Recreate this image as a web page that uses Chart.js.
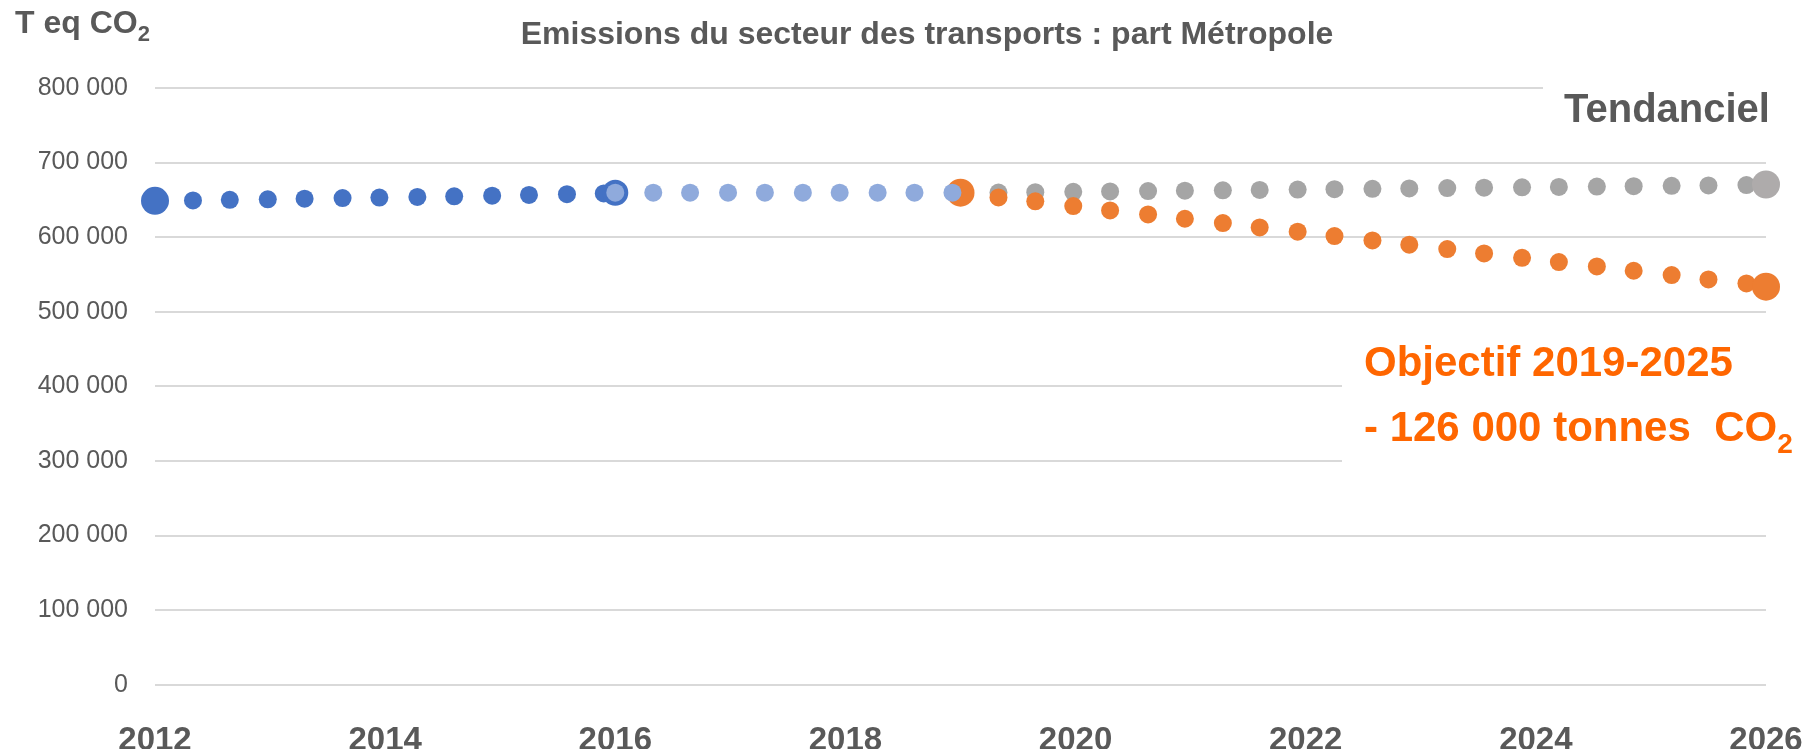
<!DOCTYPE html>
<html>
<head>
<meta charset="utf-8">
<script src="https://cdn.jsdelivr.net/npm/chart.js@4/dist/chart.umd.min.js"></script>
<style>
  html, body { margin: 0; padding: 0; background: #fff; }
  #chart { display: block; }
</style>
</head>
<body>
<canvas id="chart" width="1820" height="749"></canvas>
<script>
// ── données ─────────────────────────────────────────────
const X_TICKS = [2012, 2014, 2016, 2018, 2020, 2022, 2024, 2026];

// historique 2012-2016
const blueBigX = [2012, 2016];
const blueBigY = [648800, 659600];
const blueX = [2012.33, 2012.65, 2012.98, 2013.30, 2013.63, 2013.95, 2014.28, 2014.60, 2014.93, 2015.25, 2015.58, 2015.90];
const blueY = [649300, 650100, 650800, 651600, 652400, 653100, 653900, 654800, 655700, 656600, 657600, 658600];

// 2016-2019
const lightX = [2016, 2016.33, 2016.65, 2016.98, 2017.30, 2017.63, 2017.95, 2018.28, 2018.60, 2018.93];
const lightY = [659600, 659600, 659600, 659600, 659600, 659600, 659600, 659600, 659600, 659600];

// tendanciel 2019-2026
const trendX = [2019.33, 2019.65, 2019.98, 2020.30, 2020.63, 2020.95, 2021.28, 2021.60, 2021.93, 2022.25, 2022.58,
                2022.90, 2023.23, 2023.55, 2023.88, 2024.20, 2024.53, 2024.85, 2025.18, 2025.50, 2025.83];
const trendY = [659900, 660300, 660800, 661300, 661800, 662300, 662800, 663300, 663800, 664300, 664800,
                665300, 665800, 666300, 666800, 667300, 667800, 668300, 668800, 669300, 669900];
const trendBigX = [2026];
const trendBigY = [670600];

// objectif 2019-2026
const objY = [653300, 648000, 641700, 635900, 630500, 624700, 618900, 613100, 607300, 601500, 595700,
              589900, 584000, 578200, 572400, 566600, 560800, 555000, 549200, 543400, 538000];
const objBigX = [2019, 2026];
const objBigY = [659600, 533600];

// ── couleurs ────────────────────────────────────────────
const C_BLUE  = '#4472C4';
const C_LIGHT = '#8FAADC';
const C_ORANGE = '#ED7D31';
const C_GREY  = '#A5A5A5';
const C_GREY2 = '#AEABAB';
const C_TEXT  = '#595959';
const C_LABEL = '#FF6600';
const FONT = '"Liberation Sans", Arial, sans-serif';

function pts(xs, ys) {
  return xs.map((x, i) => ({ x: x, y: ys[i] }));
}

function serie(xs, ys, color, radius, order) {
  return {
    data: pts(xs, ys),
    backgroundColor: color,
    borderWidth: 0,
    pointRadius: radius,
    pointHoverRadius: radius,
    pointBorderWidth: 0,
    clip: false,
    order: order
  };
}

// texte avec indice (CO2)
function textSub(c, main, sub, x, y, size, subSize, drop) {
  c.font = 'bold ' + size + 'px ' + FONT;
  c.fillText(main, x, y);
  const w = c.measureText(main).width;
  c.font = 'bold ' + subSize + 'px ' + FONT;
  c.fillText(sub, x + w, y + drop);
}

// ── titres et étiquettes ────────────────────────────────
const labelsPlugin = {
  id: 'labels',
  afterDraw(chart) {
    const c = chart.ctx;
    c.save();
    // fonds blancs derrière les étiquettes (coupent le quadrillage)
    c.fillStyle = '#fff';
    c.fillRect(1543, 60, 277, 80);
    c.fillRect(1342, 330, 478, 150);

    c.textBaseline = 'alphabetic';
    c.textAlign = 'left';
    c.fillStyle = C_TEXT;

    textSub(c, 'T eq CO', '2', 15, 33, 32, 22, 8);

    c.font = 'bold 32px ' + FONT;
    c.textAlign = 'center';
    c.fillText('Emissions du secteur des transports : part Métropole', 927, 44);

    c.textAlign = 'left';
    c.font = 'bold 40px ' + FONT;
    c.fillText('Tendanciel', 1564, 122);

    c.fillStyle = C_LABEL;
    c.font = 'bold 42px ' + FONT;
    c.fillText('Objectif 2019-2025', 1364, 376);
    textSub(c, '- 126 000 tonnes  CO', '2', 1364, 441, 42, 28, 12);
    c.restore();
  }
};

new Chart(document.getElementById('chart'), {
  type: 'scatter',
  data: {
    datasets: [
      serie(lightX, lightY, C_LIGHT, 9, 0),
      serie(blueBigX, blueBigY, C_BLUE, [14, 13], 1),
      serie(blueX, blueY, C_BLUE, 9, 2),
      serie(objBigX, objBigY, C_ORANGE, 14, 3),
      serie(trendX, objY, C_ORANGE, 9, 4),
      serie(trendBigX, trendBigY, C_GREY2, 14, 5),
      serie(trendX, trendY, C_GREY, 9, 6)
    ]
  },
  options: {
    responsive: false,
    animation: false,
    events: [],
    layout: { padding: { top: 88, right: 54, bottom: 0, left: 0 } },
    plugins: {
      legend: { display: false },
      tooltip: { enabled: false }
    },
    scales: {
      x: {
        type: 'linear',
        min: 2012,
        max: 2026,
        afterBuildTicks: s => { s.ticks = X_TICKS.map(v => ({ value: v })); },
        // hauteur fixe, pas de marge auto pour les étiquettes des bords
        afterFit: s => { s.height = 64.3; s.paddingLeft = 0; s.paddingRight = 0; },
        ticks: {
          padding: 28,
          maxRotation: 0,
          autoSkip: false,
          color: C_TEXT,
          font: { family: FONT, size: 33, weight: 'bold' },
          callback: v => String(v)
        },
        grid: { display: false },
        border: { display: false }
      },
      y: {
        min: 0,
        max: 800000,
        afterFit: s => { s.width = 155; },
        ticks: {
          stepSize: 100000,
          padding: 27,
          color: C_TEXT,
          font: { family: FONT, size: 25 },
          callback: v => String(v).replace(/\B(?=(\d{3})+(?!\d))/g, ' ')
        },
        grid: { color: '#D9D9D9', lineWidth: 2, drawTicks: false },
        border: { display: false }
      }
    }
  },
  plugins: [labelsPlugin]
});
</script>
</body>
</html>
